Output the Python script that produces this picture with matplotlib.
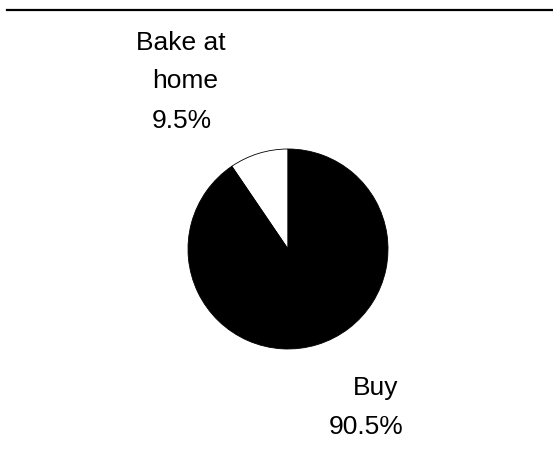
import matplotlib
matplotlib.use("Agg")
import matplotlib.pyplot as plt
from matplotlib.lines import Line2D

# dati: come vengono ottenuti i dolci
categories = ["Bake at\nhome", "Buy"]
shares = [9.5, 90.5]
slice_colors = ["white", "black"]

W, H = 553, 459
fig = plt.figure(figsize=(W / 100, H / 100), dpi=100)


def px(x, y):
    # coordinate in pixel (origine in alto a sinistra) -> coordinate figura
    return x / W, 1 - y / H


# linea orizzontale in alto
fig.add_artist(Line2D([7 / W, 1.0], [1 - 9.5 / H] * 2, color="black", lw=1.6))

# torta: centro (288, 249), raggio 100 px
cx, cy, r = 288, 249, 100
ax = fig.add_axes([(cx - r) / W, 1 - (cy + r) / H, 2 * r / W, 2 * r / H])
ax.pie(shares, colors=slice_colors, startangle=90, counterclock=True,
       radius=1.0, wedgeprops=dict(edgecolor="black", linewidth=0.6))
ax.set_xlim(-1.0, 1.0)
ax.set_ylim(-1.0, 1.0)
ax.set_aspect("equal")
ax.axis("off")

# etichette: (x sinistro di ogni riga, baseline della prima riga)
label_pos = [
    [(136, 50), (152, 88), (152, 128)],
    [(353, 395), (329, 434)],
]

font = dict(family="Liberation Sans", fontsize=19, color="black")
for cat, val, pos in zip(categories, shares, label_pos):
    lines = cat.split("\n") + [f"{val:.1f}%"]
    for txt, (x, y) in zip(lines, pos):
        fig.text(*px(x, y), txt, ha="left", va="baseline", **font)

fig.savefig("out.png", dpi=100)
